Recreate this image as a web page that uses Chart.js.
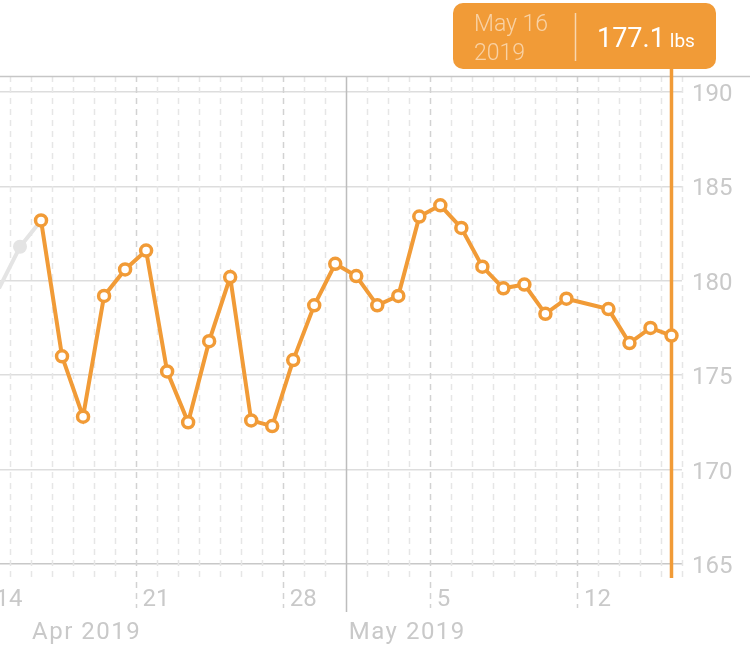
<!DOCTYPE html>
<html>
<head>
<meta charset="utf-8">
<script src="https://cdn.jsdelivr.net/npm/chart.js@4.4.0/dist/chart.umd.min.js"></script>
<style>
  html,body{margin:0;padding:0;background:#fff;}
  #wrap{width:750px;height:655px;}
</style>
</head>
<body>
<div id="wrap"><canvas id="weightChart" width="750" height="655"></canvas></div>
<script>
// data
const START = '2019-04-14';
const weighDates = ['2019-04-16','2019-04-17','2019-04-18','2019-04-19','2019-04-20','2019-04-21','2019-04-22',
  '2019-04-23','2019-04-24','2019-04-25','2019-04-26','2019-04-27','2019-04-28','2019-04-29','2019-04-30',
  '2019-05-01','2019-05-02','2019-05-03','2019-05-04','2019-05-05','2019-05-06','2019-05-07','2019-05-08',
  '2019-05-09','2019-05-10','2019-05-11','2019-05-13','2019-05-14','2019-05-15','2019-05-16'];
const weights = [183.2,176.0,172.8,179.2,180.6,181.6,175.2,
  172.5,176.8,180.2,172.6,172.3,175.8,178.7,180.9,
  180.25,178.7,179.2,183.4,184.0,182.8,180.75,179.6,
  179.8,178.25,179.05,178.5,176.7,177.5,177.1];
const priorDates = ['2019-04-14','2019-04-15','2019-04-16'];
const priorWeights = [179.6,181.8,183.2];
const yTicks = [165,170,175,180,185,190];
const weekTicks = ['2019-04-14','2019-04-21','2019-04-28','2019-05-05','2019-05-12'];
const monthLabels = ['Apr 2019','May 2019'];
const monthStarts = ['2019-04-01','2019-05-01'];
const selDate = 'May 16', selYear = '2019', selValue = '177.1', selUnit = 'lbs';

const ORANGE = '#F19B37';
const GRAY_TXT = '#c9c9c9';
const FONT = 'Roboto, "Noto Sans", sans-serif';
const DAY = 864e5;
const dayOf = d => (Date.parse(d+'T00:00:00Z') - Date.parse(START+'T00:00:00Z'))/DAY;
const dateAt = n => new Date(Date.parse(START+'T00:00:00Z') + n*DAY);

const healthGrid = {
  id:'healthGrid',
  beforeDatasetsDraw(chart){
    const {ctx, chartArea:a, scales:{x}} = chart;
    ctx.save();
    ctx.lineWidth = 1.5;
    for (let n = Math.ceil(x.min); n <= x.max; n++){
      const px = Math.round(x.getPixelForValue(n)) + 0.5;
      const dt = dateAt(n);
      let bottom = a.bottom, color = '#e6e6e6', dash = [6,5];
      if (dt.getUTCDate() === 1){ bottom = 612; color = '#bdbdbd'; dash = []; }
      else if (dt.getUTCDay() === 0){ bottom = 608; color = '#d2d2d2'; }
      ctx.strokeStyle = color; ctx.setLineDash(dash);
      ctx.beginPath(); ctx.moveTo(px, a.top); ctx.lineTo(px, bottom); ctx.stroke();
    }
    ctx.setLineDash([]);
    // top border
    ctx.strokeStyle = '#c6c6c6';
    ctx.beginPath(); ctx.moveTo(0, a.top + 0.5); ctx.lineTo(chart.width, a.top + 0.5); ctx.stroke();
    // selection cursor
    const pt = chart.getDatasetMeta(1).data[weights.length-1];
    ctx.strokeStyle = ORANGE; ctx.lineWidth = 3.5;
    ctx.beginPath(); ctx.moveTo(pt.x, 68); ctx.lineTo(pt.x, a.bottom - 1); ctx.stroke();
    ctx.restore();
  },
  afterDraw(chart){
    const {ctx, scales:{x}} = chart;
    ctx.save();
    // month labels
    ctx.fillStyle = GRAY_TXT; ctx.font = '24px '+FONT; ctx.textBaseline = 'alphabetic'; ctx.textAlign = 'left';
    ctx.letterSpacing = '1.5px';
    monthLabels.forEach((m,i)=>{
      const px = Math.max(x.getPixelForValue(dayOf(monthStarts[i])) + 3, 32);
      ctx.fillText(m, px, 639);
    });
    ctx.letterSpacing = '0px';
    // selection box
    const bx = 453, by = 3, bw = 263, bh = 66, r = 10;
    ctx.fillStyle = ORANGE;
    ctx.beginPath(); ctx.roundRect(bx, by, bw, bh, r); ctx.fill();
    ctx.fillStyle = 'rgba(255,255,255,0.55)'; ctx.font = '300 23px '+FONT;
    ctx.fillText(selDate, 474, 31);
    ctx.fillText(selYear, 474, 60);
    ctx.strokeStyle = 'rgba(255,255,255,0.6)'; ctx.lineWidth = 1.5;
    ctx.beginPath(); ctx.moveTo(575.5, 13); ctx.lineTo(575.5, 61); ctx.stroke();
    ctx.fillStyle = '#fff'; ctx.font = '27px '+FONT;
    ctx.fillText(selValue, 597, 47);
    const w = ctx.measureText(selValue).width;
    ctx.font = '19px '+FONT;
    ctx.fillText(selUnit, 597 + w + 5, 47);
    ctx.restore();
  }
};

new Chart(document.getElementById('weightChart'), {
  type:'line',
  data:{ datasets:[
    { data: priorDates.map((d,i)=>({x:dayOf(d)+0.5, y:priorWeights[i]})),
      borderColor:'#e4e4e4', borderWidth:4, pointRadius:c=>c.dataIndex===1?7:0,
      pointBackgroundColor:'#e4e4e4', pointBorderWidth:0, order:2 },
    { data: weighDates.map((d,i)=>({x:dayOf(d)+0.5, y:weights[i]})),
      borderColor:ORANGE, borderWidth:4, pointRadius:5.5, pointBorderWidth:3.5,
      pointBackgroundColor:'#fff', pointBorderColor:ORANGE, order:1 }
  ]},
  options:{
    responsive:false, animation:false,
    layout:{ autoPadding:false, padding:{ top:76, left:0, right:0, bottom:0 } },
    plugins:{ legend:{display:false}, tooltip:{enabled:false} },
    scales:{
      x:{ type:'linear', min:11.5/21, max:33,
        afterFit:s=>{ s.height = 76; s.paddingLeft = 0; s.paddingRight = 0; },
        afterBuildTicks:s=>{ s.ticks = weekTicks.map(d=>({value:dayOf(d)})); },
        ticks:{ align:'start', labelOffset:7, padding:-1, color:GRAY_TXT, font:{family:FONT, size:24},
          callback:v=>String(dateAt(v).getUTCDate()) },
        grid:{ display:false }, border:{ display:false } },
      y:{ position:'right', min:164.2, max:190.85,
        afterFit:s=>{ s.width = 68; s.paddingTop = 0; s.paddingBottom = 0; },
        afterBuildTicks:s=>{ s.ticks = yTicks.map(v=>({value:v})); },
        ticks:{ padding:10, labelOffset:3, color:GRAY_TXT, font:{family:FONT, size:24} },
        grid:{ color:c=>c.tick && c.tick.value===165 ? '#c8c8c8' : '#dddddd', lineWidth:1.5, drawTicks:false },
        border:{ display:false } }
    }
  },
  plugins:[healthGrid]
});
</script>
</body>
</html>
